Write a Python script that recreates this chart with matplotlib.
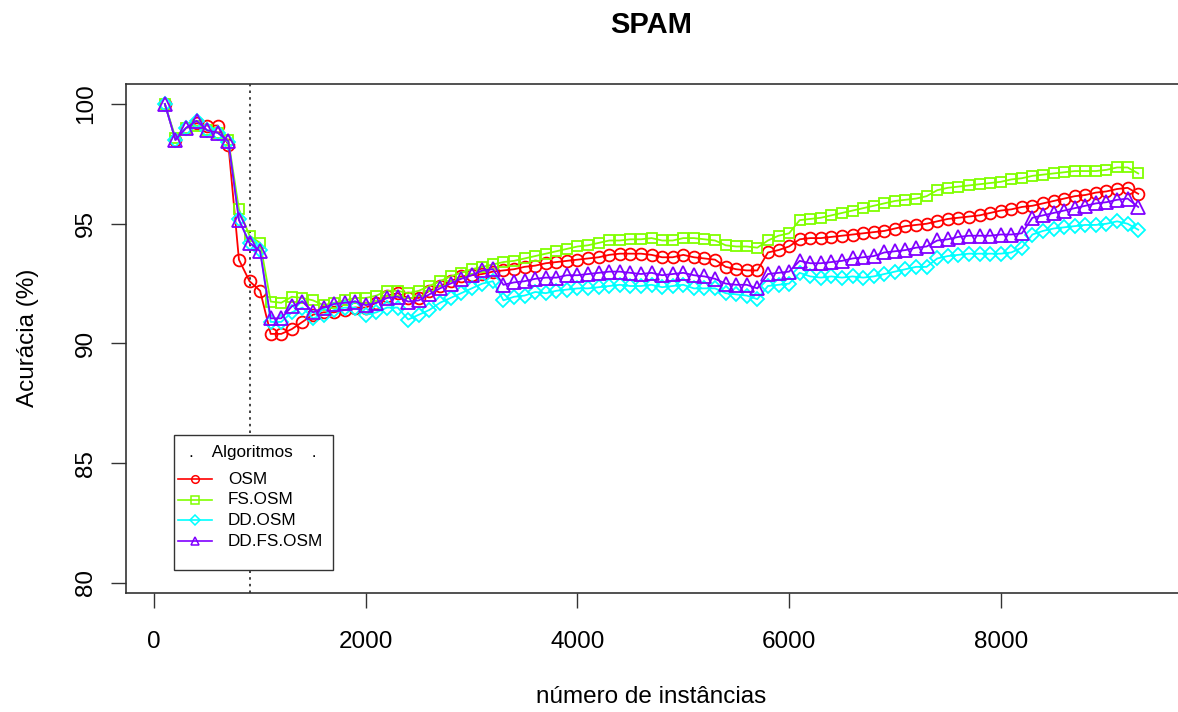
import numpy as np
import matplotlib
matplotlib.use("Agg")
import matplotlib.pyplot as plt
from matplotlib.patches import Rectangle
from matplotlib.lines import Line2D

plt.rcParams['font.family'] = ['Liberation Sans', 'DejaVu Sans']

# number of instances: 100, 200, ..., 9300
instancias = np.arange(100, 9301, 100)

osm = [100.0, 98.5, 99.0, 99.2, 99.1, 99.1, 98.3, 93.5, 92.6, 92.2,
       90.4, 90.4, 90.6, 90.9, 91.2, 91.3, 91.3, 91.4, 91.5, 91.5,
       91.7, 92.0, 92.1, 91.9, 91.9, 92.2, 92.4, 92.6, 92.8, 92.85,
       92.9, 93.0, 93.05, 93.1, 93.2, 93.25, 93.35, 93.4, 93.45, 93.5,
       93.55, 93.6, 93.7, 93.75, 93.75, 93.75, 93.7, 93.6, 93.6, 93.7,
       93.6, 93.55, 93.5, 93.2, 93.1, 93.05, 93.05, 93.8, 93.9, 94.05,
       94.35, 94.4, 94.4, 94.45, 94.5, 94.55, 94.6, 94.65, 94.7, 94.8,
       94.9, 94.95, 95.0, 95.1, 95.2, 95.25, 95.3, 95.35, 95.45, 95.55,
       95.6, 95.7, 95.75, 95.85, 95.95, 96.05, 96.15, 96.2, 96.3, 96.35,
       96.45, 96.5, 96.25]

fs_osm = [100.0, 98.6, 99.0, 99.1, 98.9, 98.8, 98.5, 95.6, 94.5, 94.2,
          91.75, 91.7, 91.95, 91.9, 91.8, 91.6, 91.7, 91.8, 91.9, 91.9,
          92.0, 92.2, 92.2, 92.1, 92.2, 92.4, 92.6, 92.8, 92.95, 93.1,
          93.2, 93.3, 93.4, 93.45, 93.55, 93.65, 93.75, 93.85, 93.95, 94.05,
          94.1, 94.2, 94.3, 94.3, 94.35, 94.35, 94.4, 94.3, 94.3, 94.4,
          94.4, 94.35, 94.3, 94.1, 94.05, 94.05, 94.0, 94.3, 94.5, 94.6,
          95.15, 95.2, 95.25, 95.35, 95.45, 95.55, 95.65, 95.75, 95.85, 95.95,
          96.0, 96.05, 96.15, 96.4, 96.5, 96.55, 96.6, 96.65, 96.7, 96.75,
          96.85, 96.9, 97.0, 97.05, 97.1, 97.15, 97.2, 97.2, 97.2, 97.25,
          97.35, 97.35, 97.1]

dd_osm = [100.0, 98.5, 99.0, 99.3, 98.9, 98.8, 98.4, 95.2, 94.2, 93.9,
          90.9, 90.9, 91.3, 91.5, 91.05, 91.2, 91.4, 91.5, 91.5, 91.2,
          91.3, 91.5, 91.5, 91.0, 91.2, 91.4, 91.7, 91.9, 92.1, 92.3,
          92.5, 92.6, 91.8, 91.95, 92.0, 92.15, 92.1, 92.2, 92.25, 92.3,
          92.3, 92.35, 92.4, 92.45, 92.4, 92.4, 92.45, 92.35, 92.4, 92.45,
          92.3, 92.3, 92.3, 92.1, 92.05, 92.0, 91.85, 92.4, 92.45, 92.5,
          92.95, 92.8, 92.75, 92.8, 92.75, 92.8, 92.75, 92.8, 92.9, 93.0,
          93.1, 93.2, 93.2, 93.55, 93.65, 93.7, 93.75, 93.75, 93.75, 93.75,
          93.8, 94.0, 94.55, 94.7, 94.8, 94.85, 94.9, 94.95, 94.95, 95.0,
          95.1, 95.0, 94.75]

dd_fs_osm = [100.0, 98.5, 99.0, 99.3, 98.9, 98.8, 98.45, 95.15, 94.2, 93.85,
             91.05, 91.05, 91.55, 91.75, 91.3, 91.5, 91.65, 91.7, 91.75, 91.6,
             91.7, 91.9, 91.95, 91.75, 91.8, 92.05, 92.3, 92.5, 92.7, 92.85,
             93.05, 93.1, 92.45, 92.55, 92.6, 92.7, 92.75, 92.75, 92.85, 92.85,
             92.9, 92.95, 93.0, 93.0, 92.95, 92.9, 92.95, 92.85, 92.9, 92.95,
             92.85, 92.8, 92.7, 92.5, 92.45, 92.45, 92.3, 92.9, 92.95, 93.0,
             93.45, 93.35, 93.35, 93.4, 93.45, 93.55, 93.6, 93.65, 93.8, 93.85,
             93.9, 94.0, 94.05, 94.3, 94.35, 94.45, 94.5, 94.5, 94.5, 94.55,
             94.55, 94.6, 95.25, 95.35, 95.45, 95.55, 95.65, 95.75, 95.85, 95.9,
             96.0, 96.05, 95.7]

nomes = ['OSM', 'FS.OSM', 'DD.OSM', 'DD.FS.OSM']
series = [osm, fs_osm, dd_osm, dd_fs_osm]
cores = ['#FF0000', '#80FF00', '#00FFFF', '#8000FF']
marcadores = ['o', 's', 'D', '^']
tamanhos = [8.5, 7.5, 7.0, 9.5]
corte = 900

W, H = 1178, 712
fig = plt.figure(figsize=(W / 100, H / 100), dpi=100)

# axes box in pixels: left 126, right 1178, top 84, bottom 593
ax = fig.add_axes([126 / W, (H - 593) / H, (W - 126) / W, (593 - 84) / H])

for ys, c, m, s in zip(series, cores, marcadores, tamanhos):
    ax.plot(instancias, ys, color=c, marker=m, markersize=s, markerfacecolor='none',
            markeredgecolor=c, markeredgewidth=1.3, linewidth=1.3)

ax.axvline(corte, color='#222222', linestyle=(0, (1.5, 2.5)), linewidth=1.2, zorder=1)

ax.set_xlim(-267.5, 9676)
ax.set_ylim(79.58, 100.835)
ax.set_xticks([0, 2000, 4000, 6000, 8000])
ax.set_yticks([80, 85, 90, 95, 100])
ax.tick_params(axis='both', direction='out', length=11, width=1.0, labelsize=17.5, color='#333333')
ax.tick_params(axis='x', pad=16)
ax.tick_params(axis='y', pad=10)
for lbl in ax.get_yticklabels():
    lbl.set_rotation(90)
    lbl.set_va('center')
for sp in ax.spines.values():
    sp.set_linewidth(1.2)
    sp.set_color('#333333')
ax.spines['right'].set_visible(False)

fig.text(651 / W, 1 - 25 / H, 'SPAM', ha='center', va='center', fontsize=21, fontweight='bold')
fig.text(651 / W, 1 - 697 / H, 'número de instâncias', ha='center', va='center', fontsize=17.5)
fig.text(28 / W, 1 - 338 / H, 'Acurácia (%)', ha='center', va='center', fontsize=17.5, rotation=90)

# legend drawn R-style
def fx(p):
    return p / W

def fy(p):
    return 1 - p / H

frame = Rectangle((fx(174), fy(570)), fx(333) - fx(174), fy(435) - fy(570),
                  transform=fig.transFigure, facecolor='white', edgecolor='#333333',
                  linewidth=1.0, zorder=5)
fig.add_artist(frame)
fig.text(fx(253), fy(452), '.    Algoritmos    .', ha='center', va='center',
         fontsize=12.3, zorder=6)
for i, (nome, c, m) in enumerate(zip(nomes, cores, marcadores)):
    yy = fy(479 + i * 20.7)
    fig.add_artist(Line2D([fx(178), fx(212)], [yy, yy], transform=fig.transFigure,
                          color=c, linewidth=1.2, zorder=6))
    fig.add_artist(Line2D([fx(195)], [yy], transform=fig.transFigure, color=c,
                          marker=m, markersize=5.5, markerfacecolor='none',
                          markeredgewidth=1.1, zorder=7))
    fig.text(fx(228), yy, nome, ha='left', va='center', fontsize=12.3, zorder=6)

fig.savefig('out.png', dpi=100)
